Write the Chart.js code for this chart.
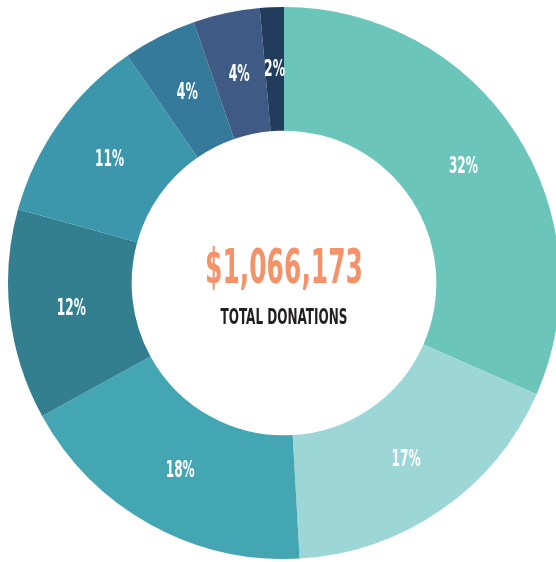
<!DOCTYPE html>
<html>
<head>
<meta charset="utf-8">
<script src="https://cdn.jsdelivr.net/npm/chart.js@4.4.0/dist/chart.umd.min.js"></script>
<style>
  html, body { margin: 0; padding: 0; background: #ffffff; overflow: hidden; width: 556px; height: 562px; }
  #wrap { position: absolute; left: 7px; top: 7px; width: 554px; height: 552px; }
</style>
</head>
<body>
<div id="wrap"><canvas id="c" width="554" height="552"></canvas></div>
<script>
const categories = ["Segment A", "Segment B", "Segment C", "Segment D", "Segment E", "Segment F", "Segment G", "Segment H"];
const shares = [31.6, 17.5, 17.9, 12.3, 11.1, 4.3, 3.9, 1.4];
const percentLabels = ["32%", "17%", "18%", "12%", "11%", "4%", "4%", "2%"];
const sliceColors = ["#6cc5ba", "#9dd6d7", "#43a6b2", "#337f90", "#3c97ac", "#35799b", "#3f5b85", "#223c5b"];
const totalText = "$1,066,173";
const subtitleText = "TOTAL DONATIONS";

const FONT = "'Liberation Sans Narrow', 'DejaVu Sans Condensed', 'Roboto Condensed', sans-serif";

function drawFitted(ctx, text, x, y, size, color, targetWidth) {
  ctx.save();
  ctx.font = "bold " + size + "px " + FONT;
  const w = ctx.measureText(text).width;
  const sx = targetWidth ? targetWidth / w : 1;
  ctx.translate(x, y);
  ctx.scale(sx, 1);
  ctx.fillStyle = color;
  ctx.textAlign = "center";
  ctx.textBaseline = "middle";
  ctx.fillText(text, 0, 0);
  ctx.restore();
}

const labelPlugin = {
  id: "labels",
  afterDatasetsDraw(chart) {
    const ctx = chart.ctx;
    const meta = chart.getDatasetMeta(0);
    meta.data.forEach((arc, i) => {
      const pr = arc.getProps(["x", "y", "startAngle", "endAngle", "innerRadius", "outerRadius"], true);
      const a = (pr.startAngle + pr.endAngle) / 2;
      const r = pr.innerRadius + 0.5 * (pr.outerRadius - pr.innerRadius);
      const t = percentLabels[i];
      drawFitted(ctx, t, pr.x + Math.cos(a) * r, pr.y + Math.sin(a) * r + 1, 23, "#ffffff", t.length === 3 ? 29 : 21);
    });
    const cx = (chart.chartArea.left + chart.chartArea.right) / 2;
    const cy = (chart.chartArea.top + chart.chartArea.bottom) / 2;
    drawFitted(ctx, totalText, cx, cy - 12, 48, "#f4936a", 158);
    drawFitted(ctx, subtitleText, cx, cy + 36, 21, "#231f20", 127);
  }
};

new Chart(document.getElementById("c"), {
  type: "doughnut",
  data: {
    labels: categories,
    datasets: [{
      data: shares,
      backgroundColor: sliceColors,
      borderWidth: 0
    }]
  },
  options: {
    responsive: false,
    animation: false,
    cutout: "55.2%",
    plugins: { legend: { display: false }, tooltip: { enabled: false } },
    layout: { padding: 0 }
  },
  plugins: [labelPlugin]
});
</script>
</body>
</html>
